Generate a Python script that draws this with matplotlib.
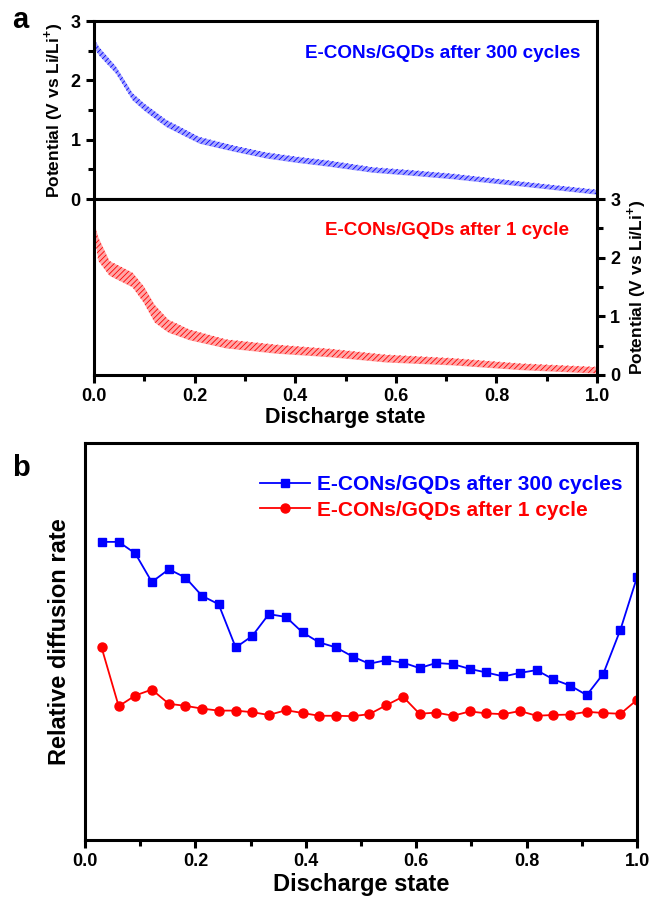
import numpy as np
import matplotlib
matplotlib.use("Agg")
import matplotlib.pyplot as plt
from matplotlib.ticker import MultipleLocator

plt.rcParams["font.family"] = ["Liberation Sans", "DejaVu Sans"]
plt.rcParams["font.weight"] = "bold"
plt.rcParams["mathtext.fontset"] = "custom"
plt.rcParams["mathtext.rm"] = "Liberation Sans:bold"
plt.rcParams["mathtext.bf"] = "Liberation Sans:bold"
plt.rcParams["hatch.linewidth"] = 0.6

BLUE = "#0000FF"
RED = "#FF0000"

# GITT discharge profiles: upper (relaxed) and lower (pulsed) potential envelopes
gitt_300_x = [0.000, 0.010, 0.043, 0.076, 0.100, 0.143, 0.209, 0.280, 0.342,
              0.400, 0.468, 0.554, 0.630, 0.713, 0.847, 1.000]
gitt_300_hi = [2.70, 2.56, 2.24, 1.79, 1.61, 1.34, 1.05, 0.90, 0.79,
               0.72, 0.65, 0.54, 0.49, 0.43, 0.30, 0.16]
gitt_300_lo = [2.55, 2.42, 2.12, 1.67, 1.49, 1.22, 0.94, 0.80, 0.69,
               0.62, 0.55, 0.45, 0.40, 0.34, 0.22, 0.08]

gitt_1_x = [0.000, 0.008, 0.030, 0.076, 0.098, 0.120, 0.147, 0.189, 0.262,
            0.362, 0.468, 0.580, 0.713, 0.847, 1.000]
gitt_1_hi = [2.58, 2.35, 1.95, 1.75, 1.52, 1.20, 0.95, 0.78, 0.61,
             0.52, 0.45, 0.35, 0.29, 0.20, 0.14]
gitt_1_lo = [2.40, 1.95, 1.70, 1.50, 1.24, 0.90, 0.73, 0.60, 0.46,
             0.37, 0.31, 0.22, 0.17, 0.09, 0.03]

# relative diffusion rate vs discharge state
state = [0.030, 0.061, 0.091, 0.121, 0.152, 0.182, 0.212, 0.242, 0.273, 0.303,
         0.333, 0.364, 0.394, 0.424, 0.455, 0.485, 0.515, 0.545, 0.576, 0.606,
         0.636, 0.667, 0.697, 0.727, 0.758, 0.788, 0.818, 0.848, 0.879, 0.909,
         0.939, 0.970, 1.000]
rate_300 = [0.751, 0.751, 0.722, 0.650, 0.682, 0.661, 0.615, 0.594, 0.485, 0.514,
            0.569, 0.562, 0.523, 0.498, 0.485, 0.462, 0.444, 0.453, 0.447, 0.433,
            0.446, 0.443, 0.431, 0.422, 0.412, 0.421, 0.428, 0.405, 0.389, 0.365,
            0.419, 0.530, 0.662]
rate_1 = [0.485, 0.337, 0.364, 0.379, 0.343, 0.338, 0.331, 0.326, 0.326, 0.322,
          0.315, 0.327, 0.320, 0.313, 0.313, 0.312, 0.317, 0.339, 0.361, 0.318,
          0.321, 0.313, 0.324, 0.319, 0.317, 0.325, 0.313, 0.315, 0.316, 0.323,
          0.320, 0.318, 0.353]

SPINE_W = 2.2
TICK_FS = 13


def gitt_band(ax, x, lo, hi, color):
    # pale body of the band with fine pulse-like hatching on top
    ax.fill_between(x, lo, hi, color=color, alpha=0.35, linewidth=0)
    with plt.rc_context({"hatch.color": color}):
        ax.fill_between(x, lo, hi, facecolor="none", edgecolor=color,
                        hatch="//////", linewidth=0)


fig = plt.figure(figsize=(6.52, 8.99), dpi=100)
ax_top = fig.add_axes([0.1442, 0.7786, 0.7715, 0.1980])
ax_bot = fig.add_axes([0.1442, 0.5829, 0.7715, 0.1957])
ax_b = fig.add_axes([0.1304, 0.0656, 0.8466, 0.4416])

for ax in (ax_top, ax_bot, ax_b):
    for sp in ax.spines.values():
        sp.set_linewidth(SPINE_W)
    ax.set_xlim(0, 1.0)
    ax.xaxis.set_major_locator(MultipleLocator(0.2))
    ax.xaxis.set_minor_locator(MultipleLocator(0.1))
    ax.tick_params(which="both", direction="out", width=SPINE_W,
                   labelsize=TICK_FS)
    ax.tick_params(which="major", length=6)
    ax.tick_params(which="minor", length=4)

# --- panel a, top: after 300 cycles
gitt_band(ax_top, gitt_300_x, gitt_300_lo, gitt_300_hi, BLUE)
ax_top.set_ylim(0, 3)
ax_top.yaxis.set_major_locator(MultipleLocator(1))
ax_top.yaxis.set_minor_locator(MultipleLocator(0.5))
ax_top.tick_params(axis="x", which="both", bottom=False, labelbottom=False)
ax_top.set_ylabel(r"Potential (V vs Li/Li$^{+}$)", fontsize=12.5,
                  fontweight="bold", labelpad=4)
ax_top.text(0.42, 0.82, "E-CONs/GQDs after 300 cycles", color=BLUE,
            fontsize=13.6, fontweight="bold", transform=ax_top.transAxes,
            va="center")

# --- panel a, bottom: after 1 cycle, potential on the right axis
gitt_band(ax_bot, gitt_1_x, gitt_1_lo, gitt_1_hi, RED)
ax_bot.set_ylim(0, 3)
ax_bot.yaxis.set_major_locator(MultipleLocator(1))
ax_bot.yaxis.set_minor_locator(MultipleLocator(0.5))
ax_bot.yaxis.tick_right()
ax_bot.yaxis.set_label_position("right")
ax_bot.set_ylabel(r"Potential (V vs Li/Li$^{+}$)", fontsize=12.5,
                  fontweight="bold", labelpad=3)
ax_bot.set_xlabel("Discharge state", fontsize=15.5, fontweight="bold",
                  labelpad=1)
ax_bot.text(0.46, 0.82, "E-CONs/GQDs after 1 cycle", color=RED,
            fontsize=13.6, fontweight="bold", transform=ax_bot.transAxes,
            va="center")

# --- panel b
ax_b.plot(state, rate_300, color=BLUE, marker="s", markersize=6, linewidth=1.3,
          label="E-CONs/GQDs after 300 cycles")
ax_b.plot(state, rate_1, color=RED, marker="o", markersize=6.5, linewidth=1.3,
          label="E-CONs/GQDs after 1 cycle")
ax_b.set_ylim(0, 1)
ax_b.set_yticks([])
ax_b.set_xlabel("Discharge state", fontsize=17, fontweight="bold",
                labelpad=2)
ax_b.set_ylabel("Relative diffusion rate", fontsize=17, fontweight="bold",
                labelpad=10)
leg = ax_b.legend(loc="upper left", bbox_to_anchor=(0.295, 0.950),
                  frameon=False, fontsize=15, handlelength=2.4,
                  handletextpad=0.3, labelspacing=0.3, borderaxespad=0.2)
for txt, col in zip(leg.get_texts(), (BLUE, RED)):
    txt.set_color(col)
    txt.set_fontweight("bold")

for ax in (ax_top, ax_bot, ax_b):
    for lbl in ax.get_xticklabels() + ax.get_yticklabels():
        lbl.set_fontweight("bold")

fig.text(12 / 652, 1 - 20 / 899, "a", fontsize=21, fontweight="bold",
         ha="left", va="center")
fig.text(12 / 652, 1 - 468 / 899, "b", fontsize=21, fontweight="bold",
         ha="left", va="center")

fig.savefig("out.png", dpi=100)
